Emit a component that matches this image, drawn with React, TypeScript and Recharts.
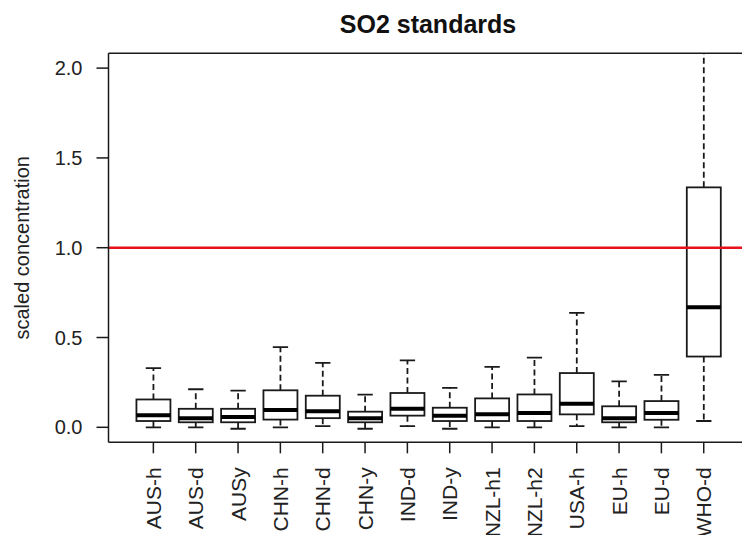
import React from 'react';
import { ComposedChart, Bar, XAxis, YAxis, ReferenceLine } from 'recharts';

const categories = [
  'AUS-h', 'AUS-d', 'AUSy', 'CHN-h', 'CHN-d', 'CHN-y', 'IND-d',
  'IND-y', 'NZL-h1', 'NZL-h2', 'USA-h', 'EU-h', 'EU-d', 'WHO-d',
];
const whiskerLow = [0.0, 0.0, -0.008, 0.0, 0.007, -0.008, 0.007, -0.008, 0.0, 0.0, 0.007, 0.0, 0.0, 0.035];
const lowerQuartile = [0.035, 0.028, 0.028, 0.043, 0.051, 0.028, 0.065, 0.035, 0.035, 0.035, 0.072, 0.028, 0.042, 0.394];
const medians = [0.067, 0.051, 0.057, 0.096, 0.089, 0.051, 0.103, 0.065, 0.072, 0.080, 0.131, 0.050, 0.080, 0.668];
const upperQuartile = [0.155, 0.103, 0.103, 0.206, 0.176, 0.087, 0.191, 0.109, 0.161, 0.183, 0.302, 0.117, 0.146, 1.336];
const whiskerHigh = [0.330, 0.212, 0.204, 0.447, 0.359, 0.182, 0.373, 0.219, 0.336, 0.388, 0.637, 0.256, 0.292, 2.4];

const yTicks = [0, 0.5, 1.0, 1.5, 2.0];
const yDomain: [number, number] = [-0.0835, 2.0825];
const standardLevel = 1.0;
const titleText = 'SO2 standards';
const yLabelText = 'scaled concentration';

const FONT = '"Liberation Sans", Arial, Helvetica, sans-serif';
const INK = '#1a1a1a';

const data = categories.map((name, i) => ({
  name,
  box: [lowerQuartile[i], upperQuartile[i]],
  lo: whiskerLow[i],
  q1: lowerQuartile[i],
  med: medians[i],
  q3: upperQuartile[i],
  hi: whiskerHigh[i],
}));

const BoxShape = (props: any) => {
  const { x, y, width, height, payload } = props;
  if (!payload || x == null || y == null) return null;
  const top = Math.min(y, y + height);
  const h = Math.abs(height);
  const span = payload.q3 - payload.q1;
  if (span <= 0) return null;
  const ppu = h / span;
  const yOf = (v: number) => top + (payload.q3 - v) * ppu;
  const cx = x + width / 2;
  const half = (width * 0.45) / 2;
  const yHi = yOf(payload.hi);
  const yLo = yOf(payload.lo);
  const yQ3 = yOf(payload.q3);
  const yQ1 = yOf(payload.q1);
  const yMed = yOf(payload.med);
  return (
    <g>
      <line x1={cx} x2={cx} y1={yQ3} y2={yHi} stroke={INK} strokeWidth={1.8} strokeDasharray="6 3.5" />
      <line x1={cx} x2={cx} y1={yQ1} y2={yLo} stroke={INK} strokeWidth={1.8} strokeDasharray="6 3.5" />
      <line x1={cx - half} x2={cx + half} y1={yHi} y2={yHi} stroke={INK} strokeWidth={1.8} />
      <line x1={cx - half} x2={cx + half} y1={yLo} y2={yLo} stroke={INK} strokeWidth={1.8} />
      <rect x={x} y={yQ3} width={width} height={yQ1 - yQ3} fill="#ffffff" stroke={INK} strokeWidth={1.8} />
      <line x1={x} x2={x + width} y1={yMed} y2={yMed} stroke="#000" strokeWidth={4} />
    </g>
  );
};

const XTick = (props: any) => {
  const { x, y, payload } = props;
  return (
    <text
      x={x}
      y={y}
      transform={`rotate(-90, ${x}, ${y})`}
      textAnchor="end"
      dy="0.36em"
      fontSize={21}
      fontFamily={FONT}
      fill="#222"
    >
      {payload.value}
    </text>
  );
};

const YLabel = (props: any) => {
  const vb = props.viewBox || {};
  const cx = (vb.x ?? 8.5) + 13.5;
  const cy = (vb.y ?? 53.3) + (vb.height ?? 389) / 2;
  return (
    <text
      x={cx}
      y={cy}
      transform={`rotate(-90, ${cx}, ${cy})`}
      textAnchor="middle"
      dy="0.36em"
      fontSize={20}
      fontFamily={FONT}
      fill="#222"
    >
      {yLabelText}
    </text>
  );
};

const xPad = { left: 23.7, right: 23.7 };

export default function App() {
  return (
    <div
      style={{
        position: 'fixed',
        left: 0,
        top: 0,
        width: 742,
        height: 535,
        overflow: 'hidden',
        background: '#ffffff',
        fontFamily: FONT,
      }}
    >
      <ComposedChart
        width={760}
        height={535}
        data={data}
        margin={{ top: 53.3, right: 11.4, bottom: 0, left: 8.5 }}
        barCategoryGap="10%"
        style={{ fontFamily: FONT }}
      >
        <XAxis
          dataKey="name"
          type="category"
          interval={0}
          padding={xPad}
          height={92.7}
          tickSize={11}
          tickMargin={14}
          tickLine={{ stroke: INK, strokeWidth: 1.5 }}
          axisLine={{ stroke: INK, strokeWidth: 1.5 }}
          tick={<XTick />}
        />
        <YAxis
          type="number"
          domain={yDomain}
          allowDataOverflow
          ticks={yTicks}
          interval={0}
          width={100}
          tickSize={12}
          tickMargin={14}
          tickFormatter={(v: number) => v.toFixed(1)}
          tick={{ fontSize: 20, fill: '#222', fontFamily: FONT }}
          tickLine={{ stroke: INK, strokeWidth: 1.5 }}
          axisLine={{ stroke: INK, strokeWidth: 1.5 }}
          label={<YLabel />}
        />
        <Bar dataKey="box" shape={<BoxShape />} isAnimationActive={false} />
        <ReferenceLine y={standardLevel} stroke="#e8101a" strokeWidth={2.5} />
        <ReferenceLine y={yDomain[1]} stroke={INK} strokeWidth={1.5} />
      </ComposedChart>
      <svg
        width={742}
        height={50}
        style={{ position: 'absolute', left: 0, top: 0, pointerEvents: 'none' }}
      >
        <text x={428} y={33} textAnchor="middle" fontSize={25} fontWeight="bold" fontFamily={FONT} fill="#111">
          {titleText}
        </text>
      </svg>
    </div>
  );
}
